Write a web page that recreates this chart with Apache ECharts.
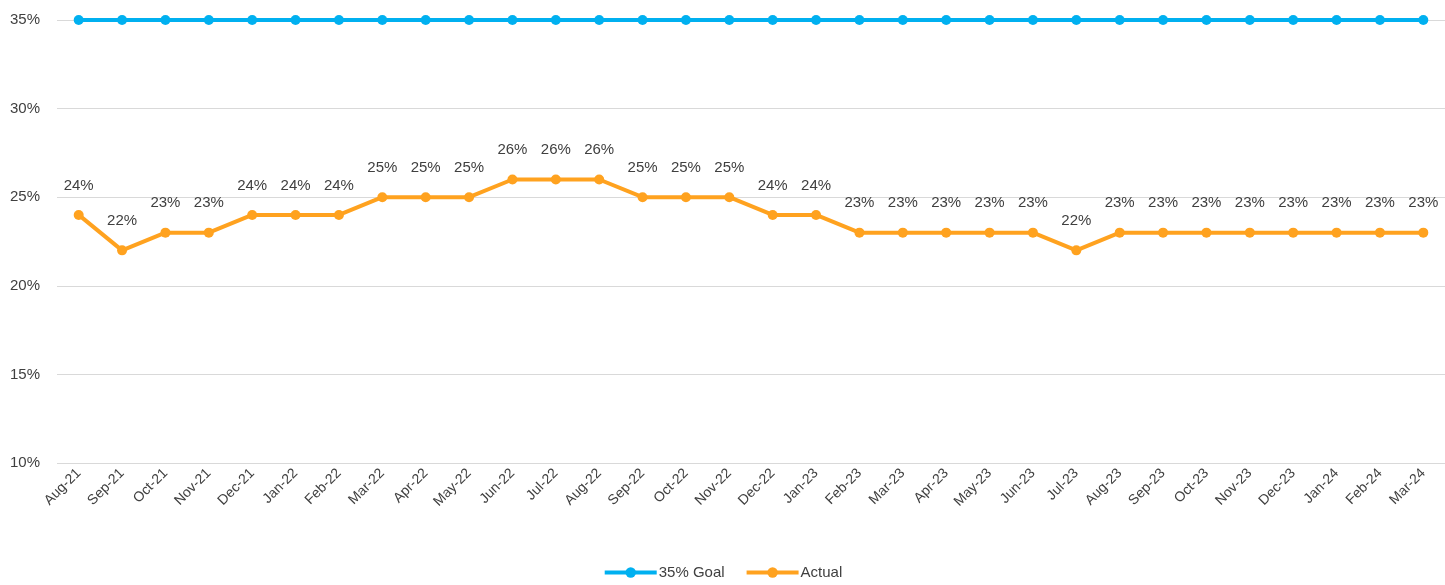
<!DOCTYPE html>
<html lang="en">
<head>
    <meta charset="utf-8">
    <script src="https://cdn.jsdelivr.net/npm/echarts@6/dist/echarts.min.js"></script>
</head>
<body style="margin:0; background:#fff;">
<div id="chart" style="width:1445px; height:585px;"></div>
<script type="text/javascript">
var months = ['Aug-21', 'Sep-21', 'Oct-21', 'Nov-21', 'Dec-21',
    'Jan-22', 'Feb-22', 'Mar-22', 'Apr-22', 'May-22', 'Jun-22', 'Jul-22', 'Aug-22', 'Sep-22', 'Oct-22', 'Nov-22', 'Dec-22',
    'Jan-23', 'Feb-23', 'Mar-23', 'Apr-23', 'May-23', 'Jun-23', 'Jul-23', 'Aug-23', 'Sep-23', 'Oct-23', 'Nov-23', 'Dec-23',
    'Jan-24', 'Feb-24', 'Mar-24'];
var goal = [35, 35, 35, 35, 35, 35, 35, 35, 35, 35, 35, 35, 35, 35, 35, 35,
    35, 35, 35, 35, 35, 35, 35, 35, 35, 35, 35, 35, 35, 35, 35, 35];
var actual = [24, 22, 23, 23, 24, 24, 24, 25, 25, 25, 26, 26, 26, 25, 25, 25,
    24, 24, 23, 23, 23, 23, 23, 22, 23, 23, 23, 23, 23, 23, 23, 23];

var font = 'Liberation Sans';

var option = {
    backgroundColor: '#fff',
    animation: false,
    grid: { left: 57, right: -2, top: 20, bottom: 122 },
    legend: {
        bottom: 0,
        left: 'center',
        itemWidth: 52,
        itemHeight: 13,
        itemGap: 20,
        lineStyle: { width: 4 },
        textStyle: { fontFamily: font, fontSize: 15, color: '#404040', padding: [0, 0, 0, -3] },
        data: ['35% Goal', 'Actual']
    },
    xAxis: {
        type: 'category',
        data: months,
        axisLine: { show: false },
        axisTick: { show: false },
        axisLabel: { rotate: 45, interval: 0, margin: 8, fontFamily: font, fontSize: 14, color: '#404040' }
    },
    yAxis: {
        type: 'value',
        min: 10,
        max: 35,
        interval: 5,
        axisLine: { show: false },
        axisTick: { show: false },
        splitLine: { lineStyle: { color: '#d9d9d9', width: 1 } },
        axisLabel: {
            formatter: '{value}%', margin: 17,
            fontFamily: font, fontSize: 15, color: '#404040'
        }
    },
    series: [{
        name: '35% Goal',
        type: 'line',
        data: goal,
        symbol: 'circle',
        symbolSize: 10,
        color: '#00b0f0',
        lineStyle: { width: 4 }
    }, {
        name: 'Actual',
        type: 'line',
        data: actual,
        symbol: 'circle',
        symbolSize: 10,
        color: '#ffa21f',
        lineStyle: { width: 4 },
        label: {
            show: true,
            position: 'top',
            distance: 17,
            formatter: '{c}%',
            fontFamily: font,
            fontSize: 15,
            color: '#404040'
        }
    }]
};

var myChart = echarts.init(document.getElementById('chart'));
myChart.setOption(option);
</script>
</body>
</html>
